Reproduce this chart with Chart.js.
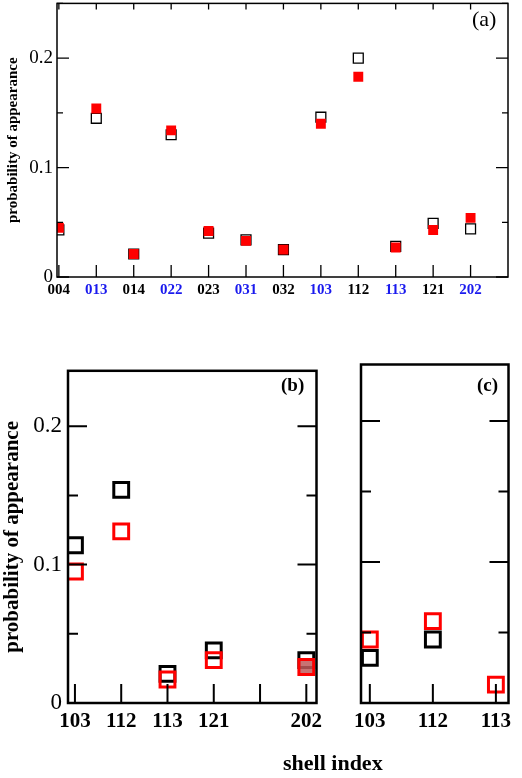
<!DOCTYPE html>
<html>
<head>
<meta charset="utf-8">
<script src="https://cdn.jsdelivr.net/npm/chart.js@4"></script>
<style>
  body { margin: 0; background: #fff; width: 522px; height: 778px; position: relative; overflow: hidden; font-family: "Liberation Serif", "DejaVu Serif", serif; }
  .box { position: absolute; }
  .lbl { position: absolute; font-family: "Liberation Serif", serif; color: #000; }
</style>
</head>
<body>
<div class="box" style="left:0;top:-12px;width:522px;height:352px"><canvas id="chartA"></canvas></div>
<div class="box" style="left:0;top:351px;width:330px;height:427px"><canvas id="chartB"></canvas></div>
<div class="box" style="left:340px;top:351px;width:182px;height:427px"><canvas id="chartC"></canvas></div>
<div class="lbl" style="left:472px;top:6px;font-size:22px">(a)</div>
<div class="lbl" style="left:281px;top:374px;font-size:19px;font-weight:bold">(b)</div>
<div class="lbl" style="left:477px;top:374px;font-size:19px;font-weight:bold">(c)</div>
<div class="lbl" style="left:283px;top:750px;font-size:22px;font-weight:bold">shell index</div>
<script>
// panel (a): all shells
const shellsA = ["004", "013", "014", "022", "023", "031", "032", "103", "112", "113", "121", "202"];
const blueA = ["013", "022", "031", "103", "113", "202"];
const openA = [0.043, 0.145, 0.021, 0.130, 0.040, 0.034, 0.025, 0.146, 0.200, 0.028, 0.049, 0.044];
const filledA = [0.045, 0.154, 0.021, 0.134, 0.042, 0.033, 0.025, 0.140, 0.183, 0.027, 0.043, 0.054];

// panel (b): positions along axis (202 sits one slot further)
const shellsB = ["103", "112", "113", "121", "202"];
const posB = [0, 1, 2, 3, 5];
const blackB = [0.114, 0.154, 0.021, 0.038, 0.031];
const redB = [0.095, 0.124, 0.017, 0.031, 0.026];

// panel (c)
const shellsC = ["103", "112", "113"];
const posC = [0, 1, 2];
const blackC = [0.032, 0.045, null];
const redC = [0.045, 0.058, 0.013];

const SERIF = "'Liberation Serif', 'DejaVu Serif', serif";

function pts(pos, vals) {
  return vals.map((v, i) => ({ x: pos[i], y: v })).filter((p) => p.y != null);
}

// ticks drawn inward, on both sides of the frame
function insideTicks(opt) {
  return {
    id: "insideTicks",
    afterDraw(chart) {
      const { ctx, chartArea: a } = chart;
      const xs = chart.scales.x;
      const ys = chart.scales.y;
      ctx.save();
      ctx.strokeStyle = "#000";
      ctx.lineWidth = opt.lw;
      ctx.beginPath();
      for (let v = 0; v <= opt.yMax + 1e-9; v += opt.yMinor) {
        const y = ys.getPixelForValue(v);
        const major = Math.abs(v / opt.yMajor - Math.round(v / opt.yMajor)) < 1e-6;
        const len = major ? opt.major : opt.minor;
        ctx.moveTo(a.left, y); ctx.lineTo(a.left + len, y);
        ctx.moveTo(a.right, y); ctx.lineTo(a.right - len, y);
      }
      for (const t of opt.xTicks) {
        const x = xs.getPixelForValue(t);
        ctx.moveTo(x, a.bottom); ctx.lineTo(x, a.bottom - opt.major);
        if (opt.topTicks) { ctx.moveTo(x, a.top); ctx.lineTo(x, a.top + opt.minor); }
      }
      ctx.stroke();
      ctx.lineWidth = opt.frame;
      ctx.strokeRect(a.left, a.top, a.right - a.left, a.bottom - a.top);
      ctx.restore();
    },
  };
}

function makeChart(id, cfg) {
  const labelAt = (v) => {
    const i = cfg.pos.indexOf(v);
    return i >= 0 ? cfg.labels[i] : "";
  };
  return new Chart(document.getElementById(id), {
    type: "scatter",
    data: { datasets: cfg.datasets },
    options: {
      responsive: true,
      maintainAspectRatio: false,
      animation: false,
      layout: { padding: cfg.padding },
      plugins: { legend: { display: false }, tooltip: { enabled: false } },
      scales: {
        x: {
          type: "linear",
          min: cfg.xMin,
          max: cfg.xMax,
          grid: { display: false, drawTicks: false },
          border: { display: false },
          afterBuildTicks(s) { s.ticks = cfg.pos.map((v) => ({ value: v })); },
          afterFit(s) { s.height = cfg.xHeight; },
          ticks: {
            padding: cfg.xPad,
            maxRotation: 0,
            autoSkip: false,
            font: { family: SERIF, size: cfg.xFont, weight: "bold" },
            color: (c) => (cfg.xColor ? cfg.xColor(labelAt(c.tick.value)) : "#000"),
            callback: (v) => labelAt(v),
          },
          title: { display: false },
        },
        y: {
          min: 0,
          max: cfg.yMax,
          grid: { display: false, drawTicks: false },
          border: { display: false },
          afterBuildTicks(s) { s.ticks = [{ value: 0 }, { value: 0.1 }, { value: 0.2 }]; },
          afterFit(s) { s.width = cfg.yWidth; },
          ticks: {
            display: cfg.yLabels,
            padding: cfg.yPad,
            font: { family: SERIF, size: cfg.yFont },
            color: "#000",
            callback: (v) => (v === 0 ? "0" : v.toFixed(1)),
          },
          title: {
            display: !!cfg.yTitle,
            text: cfg.yTitle || "",
            font: { family: SERIF, size: cfg.yTitleFont, weight: "bold" },
            color: "#000",
            padding: 0,
          },
        },
      },
    },
    plugins: [insideTicks(cfg.tickOpt)],
  });
}

makeChart("chartA", {
  labels: shellsA,
  pos: shellsA.map((_, i) => i),
  xMin: -0.05, xMax: 12.0, yMax: 0.25,
  padding: { top: 3, right: 14, left: 4, bottom: 0 },
  xHeight: 63, yWidth: 53, xPad: 4, yPad: 4,
  xFont: 15, yFont: 19, yTitle: "probability of appearance", yTitleFont: 15, yLabels: true,
  xColor: (l) => (blueA.includes(l) ? "#1a1aee" : "#000"),
  tickOpt: { lw: 1.3, frame: 1.5, major: 12, minor: 6, yMajor: 0.1, yMinor: 0.05, yMax: 0.25, xTicks: shellsA.map((_, i) => i), topTicks: true },
  datasets: [
    { data: pts(shellsA.map((_, i) => i), filledA), pointStyle: "rect", pointRadius: 7, backgroundColor: "#f00", borderColor: "#f00", borderWidth: 0 },
    { data: pts(shellsA.map((_, i) => i), openA), pointStyle: "rect", pointRadius: 7, backgroundColor: "rgba(0,0,0,0)", borderColor: "#000", borderWidth: 1.3 },
  ],
});

makeChart("chartB", {
  labels: shellsB,
  pos: posB,
  xMin: -0.15, xMax: 5.22, yMax: 0.24,
  padding: { top: 5, right: 13, left: 0, bottom: 0 },
  xHeight: 75, yWidth: 68, xPad: 6, yPad: 6,
  xFont: 21, yFont: 23, yTitle: "probability of appearance", yTitleFont: 21, yLabels: true,
  tickOpt: { lw: 2, frame: 2.5, major: 19, minor: 10, yMajor: 0.1, yMinor: 0.05, yMax: 0.24, xTicks: [0, 1, 2, 3, 4, 5], topTicks: false },
  datasets: [
    { data: pts(posB, redB), pointStyle: "rect", pointRadius: 10.5, backgroundColor: ["rgba(0,0,0,0)", "rgba(0,0,0,0)", "rgba(0,0,0,0)", "rgba(0,0,0,0)", "rgba(190,90,90,0.85)"], borderColor: "#f00", borderWidth: 3 },
    { data: pts(posB, blackB), pointStyle: "rect", pointRadius: 10.5, backgroundColor: "rgba(0,0,0,0)", borderColor: "#000", borderWidth: 3 },
  ],
});

makeChart("chartC", {
  labels: shellsC,
  pos: posC,
  xMin: -0.14, xMax: 2.2, yMax: 0.24,
  padding: { top: 5, right: 11, left: 0, bottom: 0 },
  xHeight: 75, yWidth: 21, xPad: 6, yPad: 0,
  xFont: 21, yFont: 23, yTitle: null, yLabels: false,
  tickOpt: { lw: 2, frame: 2.5, major: 19, minor: 10, yMajor: 0.1, yMinor: 0.05, yMax: 0.24, xTicks: posC, topTicks: false },
  datasets: [
    { data: pts(posC, redC), pointStyle: "rect", pointRadius: 10.5, backgroundColor: "rgba(0,0,0,0)", borderColor: "#f00", borderWidth: 3 },
    { data: pts(posC, blackC), pointStyle: "rect", pointRadius: 10.5, backgroundColor: "rgba(0,0,0,0)", borderColor: "#000", borderWidth: 3 },
  ],
});
</script>
</body>
</html>
